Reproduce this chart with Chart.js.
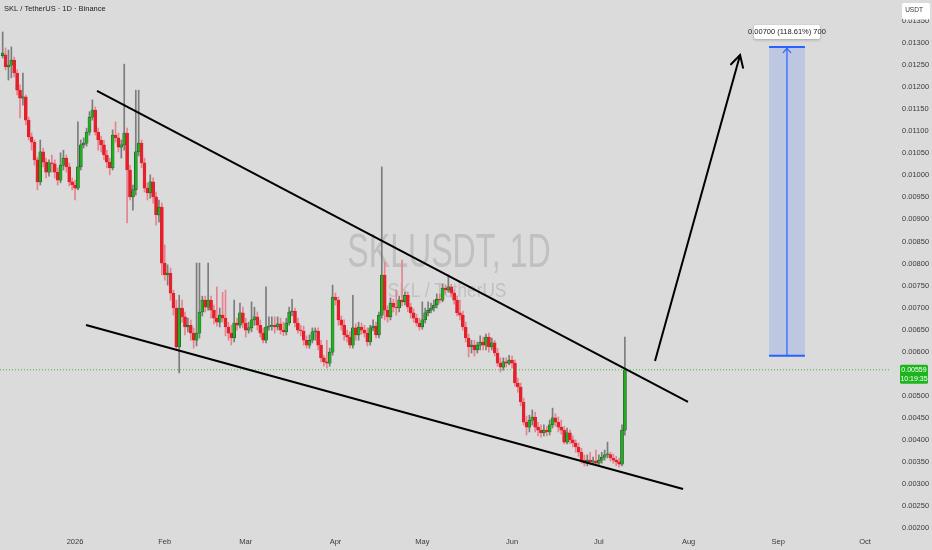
<!DOCTYPE html>
<html><head><meta charset="utf-8">
<script src="https://cdn.jsdelivr.net/npm/chart.js@4.4.1/dist/chart.umd.min.js"></script>
<style>html,body{margin:0;padding:0;background:#dbdbdb;overflow:hidden}#wrap{width:932px;height:550px}</style>
</head><body><div id="wrap"><canvas id="c" width="932" height="550"></canvas></div>
<script>
// first candle: 7 Dec 2025 = day -25 relative to 1 Jan 2026, one candle per day
const firstDay = -25;
const opens = [0.01271,0.01273,0.01246,0.01250,0.01261,0.01232,0.01193,0.01175,0.01178,0.01125,0.01087,0.01075,0.01035,0.00985,0.01053,0.01030,0.01007,0.01028,0.01026,0.01007,0.00989,0.01023,0.01039,0.01019,0.00985,0.00978,0.00971,0.01019,0.01069,0.01073,0.01098,0.01132,0.01148,0.01098,0.01080,0.01069,0.01046,0.01030,0.01017,0.01091,0.01085,0.01064,0.01069,0.01096,0.01012,0.00951,0.00967,0.01053,0.01073,0.01028,0.00971,0.00960,0.00985,0.00951,0.00910,0.00928,0.00801,0.00774,0.00778,0.00733,0.00699,0.00611,0.00699,0.00679,0.00656,0.00660,0.00642,0.00626,0.00642,0.00690,0.00717,0.00701,0.00717,0.00694,0.00676,0.00667,0.00683,0.00676,0.00656,0.00642,0.00631,0.00665,0.00660,0.00688,0.00665,0.00649,0.00654,0.00672,0.00679,0.00660,0.00642,0.00626,0.00656,0.00658,0.00660,0.00656,0.00663,0.00649,0.00645,0.00665,0.00690,0.00692,0.00665,0.00649,0.00647,0.00626,0.00615,0.00626,0.00645,0.00647,0.00615,0.00586,0.00577,0.00574,0.00599,0.00724,0.00717,0.00672,0.00660,0.00638,0.00633,0.00615,0.00654,0.00638,0.00656,0.00649,0.00642,0.00622,0.00654,0.00658,0.00638,0.00683,0.00774,0.00694,0.00679,0.00710,0.00701,0.00699,0.00717,0.00713,0.00728,0.00701,0.00688,0.00676,0.00665,0.00656,0.00672,0.00688,0.00694,0.00699,0.00706,0.00719,0.00717,0.00744,0.00740,0.00747,0.00733,0.00717,0.00688,0.00683,0.00656,0.00631,0.00611,0.00615,0.00604,0.00615,0.00622,0.00615,0.00633,0.00611,0.00620,0.00597,0.00574,0.00565,0.00577,0.00574,0.00581,0.00574,0.00529,0.00520,0.00486,0.00440,0.00429,0.00445,0.00452,0.00429,0.00422,0.00416,0.00422,0.00418,0.00434,0.00450,0.00440,0.00429,0.00422,0.00395,0.00416,0.00400,0.00393,0.00384,0.00372,0.00354,0.00347,0.00354,0.00350,0.00352,0.00347,0.00354,0.00361,0.00366,0.00367,0.00359,0.00354,0.00350,0.00345,0.00422];
const closes = [0.01277,0.01246,0.01250,0.01261,0.01232,0.01193,0.01175,0.01178,0.01125,0.01087,0.01075,0.01035,0.00985,0.01053,0.01030,0.01007,0.01028,0.01026,0.01007,0.00989,0.01023,0.01039,0.01019,0.00985,0.00978,0.00971,0.01019,0.01069,0.01073,0.01098,0.01132,0.01148,0.01098,0.01080,0.01069,0.01046,0.01030,0.01017,0.01091,0.01085,0.01064,0.01069,0.01096,0.01012,0.00951,0.00967,0.01053,0.01073,0.01028,0.00971,0.00960,0.00985,0.00951,0.00910,0.00928,0.00801,0.00774,0.00778,0.00733,0.00699,0.00611,0.00699,0.00679,0.00656,0.00660,0.00642,0.00626,0.00642,0.00690,0.00717,0.00701,0.00717,0.00694,0.00676,0.00667,0.00683,0.00676,0.00656,0.00642,0.00631,0.00665,0.00660,0.00688,0.00665,0.00649,0.00654,0.00672,0.00679,0.00660,0.00642,0.00626,0.00656,0.00658,0.00660,0.00656,0.00663,0.00649,0.00645,0.00665,0.00690,0.00692,0.00665,0.00649,0.00647,0.00626,0.00615,0.00626,0.00645,0.00647,0.00615,0.00586,0.00577,0.00574,0.00599,0.00724,0.00717,0.00672,0.00660,0.00638,0.00633,0.00615,0.00654,0.00638,0.00656,0.00649,0.00642,0.00622,0.00654,0.00658,0.00638,0.00683,0.00774,0.00694,0.00679,0.00710,0.00701,0.00699,0.00717,0.00713,0.00728,0.00701,0.00688,0.00676,0.00665,0.00656,0.00672,0.00688,0.00694,0.00699,0.00706,0.00719,0.00717,0.00744,0.00740,0.00747,0.00733,0.00717,0.00688,0.00683,0.00656,0.00631,0.00611,0.00615,0.00604,0.00615,0.00622,0.00615,0.00633,0.00611,0.00620,0.00597,0.00574,0.00565,0.00577,0.00574,0.00581,0.00574,0.00529,0.00520,0.00486,0.00440,0.00429,0.00445,0.00452,0.00429,0.00422,0.00416,0.00422,0.00418,0.00434,0.00450,0.00440,0.00429,0.00422,0.00395,0.00416,0.00400,0.00393,0.00384,0.00372,0.00354,0.00347,0.00354,0.00350,0.00352,0.00347,0.00354,0.00361,0.00366,0.00367,0.00359,0.00354,0.00350,0.00345,0.00422,0.00559];
const highs = [0.01325,0.01289,0.01284,0.01291,0.01268,0.01239,0.01205,0.01232,0.01182,0.01132,0.01096,0.01080,0.01041,0.01080,0.01062,0.01039,0.01035,0.01046,0.01035,0.01017,0.01051,0.01057,0.01046,0.01028,0.00994,0.00989,0.01121,0.01080,0.01085,0.01107,0.01144,0.01171,0.01155,0.01107,0.01089,0.01080,0.01057,0.01039,0.01103,0.01121,0.01096,0.01080,0.01252,0.01107,0.01023,0.00978,0.01193,0.01193,0.01080,0.01039,0.00983,0.01001,0.00994,0.00962,0.00944,0.00937,0.00842,0.00797,0.00790,0.00740,0.00717,0.00728,0.00717,0.00690,0.00676,0.00672,0.00654,0.00801,0.00801,0.00726,0.00726,0.00801,0.00726,0.00706,0.00747,0.00699,0.00735,0.00740,0.00667,0.00660,0.00717,0.00676,0.00710,0.00701,0.00676,0.00667,0.00713,0.00701,0.00690,0.00672,0.00654,0.00747,0.00679,0.00679,0.00679,0.00679,0.00676,0.00667,0.00676,0.00701,0.00719,0.00699,0.00676,0.00660,0.00658,0.00636,0.00638,0.00654,0.00654,0.00654,0.00626,0.00592,0.00626,0.00608,0.00751,0.00733,0.00724,0.00681,0.00672,0.00649,0.00645,0.00728,0.00663,0.00667,0.00665,0.00660,0.00654,0.00660,0.00672,0.00667,0.00690,0.01019,0.00803,0.00704,0.00722,0.00719,0.00740,0.00726,0.00808,0.00735,0.00735,0.00710,0.00697,0.00685,0.00676,0.00713,0.00699,0.00713,0.00710,0.00717,0.00731,0.00731,0.00753,0.00751,0.00774,0.00753,0.00740,0.00726,0.00717,0.00692,0.00667,0.00640,0.00626,0.00626,0.00622,0.00636,0.00633,0.00640,0.00642,0.00631,0.00626,0.00608,0.00586,0.00586,0.00586,0.00592,0.00590,0.00581,0.00540,0.00529,0.00495,0.00454,0.00456,0.00468,0.00463,0.00440,0.00434,0.00434,0.00431,0.00445,0.00472,0.00459,0.00452,0.00445,0.00431,0.00427,0.00422,0.00409,0.00400,0.00393,0.00381,0.00366,0.00366,0.00372,0.00361,0.00377,0.00366,0.00372,0.00377,0.00395,0.00372,0.00368,0.00363,0.00359,0.00434,0.00633];
const lows = [0.01266,0.01239,0.01216,0.01221,0.01223,0.01182,0.01130,0.01159,0.01114,0.01080,0.01057,0.01023,0.00967,0.00978,0.01019,0.00994,0.00998,0.01007,0.00994,0.00978,0.00983,0.01012,0.01007,0.00976,0.00967,0.00944,0.00967,0.01012,0.01062,0.01066,0.01091,0.01125,0.01091,0.01057,0.01053,0.01035,0.01017,0.01001,0.01012,0.01075,0.01053,0.01039,0.01057,0.00892,0.00944,0.00921,0.00955,0.01044,0.01017,0.00962,0.00944,0.00948,0.00937,0.00887,0.00894,0.00774,0.00762,0.00751,0.00717,0.00683,0.00604,0.00552,0.00667,0.00638,0.00645,0.00626,0.00608,0.00613,0.00631,0.00681,0.00690,0.00694,0.00676,0.00663,0.00658,0.00656,0.00667,0.00636,0.00626,0.00615,0.00622,0.00649,0.00654,0.00654,0.00633,0.00642,0.00645,0.00660,0.00649,0.00633,0.00620,0.00620,0.00649,0.00649,0.00642,0.00649,0.00640,0.00636,0.00638,0.00660,0.00681,0.00656,0.00642,0.00636,0.00615,0.00608,0.00608,0.00620,0.00626,0.00604,0.00577,0.00567,0.00563,0.00567,0.00592,0.00706,0.00660,0.00649,0.00626,0.00622,0.00608,0.00608,0.00626,0.00626,0.00640,0.00633,0.00613,0.00615,0.00647,0.00631,0.00631,0.00676,0.00672,0.00667,0.00672,0.00690,0.00683,0.00690,0.00704,0.00706,0.00690,0.00676,0.00667,0.00658,0.00649,0.00651,0.00665,0.00681,0.00688,0.00692,0.00699,0.00710,0.00713,0.00731,0.00735,0.00724,0.00708,0.00681,0.00672,0.00649,0.00622,0.00588,0.00597,0.00590,0.00597,0.00604,0.00604,0.00604,0.00599,0.00604,0.00590,0.00567,0.00554,0.00558,0.00565,0.00570,0.00563,0.00522,0.00508,0.00477,0.00434,0.00411,0.00418,0.00434,0.00418,0.00409,0.00406,0.00409,0.00409,0.00411,0.00427,0.00431,0.00418,0.00413,0.00391,0.00391,0.00391,0.00384,0.00372,0.00363,0.00347,0.00341,0.00341,0.00343,0.00343,0.00341,0.00343,0.00347,0.00354,0.00359,0.00352,0.00347,0.00341,0.00338,0.00341,0.00411];

const yTicks = [0.0020,0.0025,0.0030,0.0035,0.0040,0.0045,0.0050,0.0055,0.0060,0.0065,0.0070,0.0075,0.0080,0.0085,0.0090,0.0095,0.0100,0.0105,0.0110,0.0115,0.0120,0.0125,0.0130,0.0135];
const yHiddenTick = 0.0055; // covered by the live price tag
const monthTicks = [0,31,59,90,120,151,181,212,243,273];
const monthLabels = ['2026','Feb','Mar','Apr','May','Jun','Jul','Aug','Sep','Oct'];
const upperTrend = [{x:7.6,y:0.011912},{x:211.8,y:0.00486}];
const lowerTrend = [{x:3.8,y:0.006605},{x:210.1,y:0.002887}];
const projArrow = [{x:200.4,y:0.00579},{x:229.8,y:0.012728}];
const targetBox = {x0:239.8,x1:252.2,y0:0.00591,y1:0.01291};
const targetText = '0.00700 (118.61%) 700';
const lastPrice = 0.00559;
const lastPriceText = '0.00559';
const countdownText = '10:19:35';
const titleText = 'SKL / TetherUS · 1D · Binance';

const X_MIN = -25.92, X_MAX = 281.6, Y_MIN = 0.001889, Y_MAX = 0.013975;
const UP = '#1fae1f', DOWN = '#e3202b', UP_BORDER = '#1d3a1d', UP_WICK = '#7c7c7c', DOWN_WICK = '#e8828c';
const NARROW = '"Liberation Sans Narrow", "Liberation Sans", Arial, sans-serif';

const xs = opens.map((_, i) => firstDay + i);
const isUp = i => closes[i] >= opens[i];
const bodies = opens.map((o, i) => ({x: xs[i], y: [o, closes[i]]}));
const wicks = opens.map((o, i) => ({x: xs[i], y: [lows[i], highs[i]]}));

function condensedText(ctx, s, x, y, font, color, align, sx) {
  ctx.save();
  ctx.font = font; ctx.fillStyle = color; ctx.textBaseline = 'middle'; ctx.textAlign = align;
  ctx.translate(x, y); ctx.scale(sx, 1); ctx.fillText(s, 0, 0);
  ctx.restore();
}
function roundRect(ctx, x, y, w, h, r) {
  ctx.beginPath();
  ctx.moveTo(x + r, y); ctx.lineTo(x + w - r, y); ctx.quadraticCurveTo(x + w, y, x + w, y + r);
  ctx.lineTo(x + w, y + h - r); ctx.quadraticCurveTo(x + w, y + h, x + w - r, y + h);
  ctx.lineTo(x + r, y + h); ctx.quadraticCurveTo(x, y + h, x, y + h - r);
  ctx.lineTo(x, y + r); ctx.quadraticCurveTo(x, y, x + r, y); ctx.closePath();
}

const bgPlugin = {
  id: 'bg',
  beforeDraw(chart) {
    const c = chart.ctx; c.save(); c.fillStyle = '#dbdbdb'; c.fillRect(0, 0, chart.width, chart.height); c.restore();
  },
  beforeDatasetsDraw(chart) {
    const c = chart.ctx;
    condensedText(c, 'SKLUSDT, 1D', 449, 253, '49px "Liberation Sans", Arial, sans-serif', 'rgba(110,110,110,0.24)', 'center', 0.655);
    condensedText(c, 'SKL / TetherUS', 447, 291, '21px "Liberation Sans", Arial, sans-serif', 'rgba(110,110,110,0.24)', 'center', 0.82);
    const xs_ = chart.scales.x, ys_ = chart.scales.y;
    const bx0 = xs_.getPixelForValue(targetBox.x0), bx1 = xs_.getPixelForValue(targetBox.x1);
    const by0 = ys_.getPixelForValue(targetBox.y0), by1 = ys_.getPixelForValue(targetBox.y1);
    c.save();
    c.fillStyle = 'rgba(41,98,255,0.17)';
    c.fillRect(bx0, by1, bx1 - bx0, by0 - by1);
    c.strokeStyle = '#2962ff'; c.lineWidth = 2;
    c.beginPath(); c.moveTo(bx0, by1); c.lineTo(bx1, by1); c.moveTo(bx0, by0); c.lineTo(bx1, by0); c.stroke();
    const mx = (bx0 + bx1) / 2;
    c.lineWidth = 1.2;
    c.beginPath(); c.moveTo(mx, by0); c.lineTo(mx, by1 + 1); c.stroke();
    c.beginPath(); c.moveTo(mx - 4, by1 + 6); c.lineTo(mx, by1 + 1.5); c.lineTo(mx + 4, by1 + 6); c.stroke();
    c.restore();
  },
  afterDatasetsDraw(chart) {
    const c = chart.ctx, xs_ = chart.scales.x, ys_ = chart.scales.y;
    const x0 = xs_.getPixelForValue(projArrow[0].x), y0 = ys_.getPixelForValue(projArrow[0].y);
    const x1 = xs_.getPixelForValue(projArrow[1].x), y1 = ys_.getPixelForValue(projArrow[1].y);
    const ang = Math.atan2(y1 - y0, x1 - x0);
    const L = 13, spread = 0.5;
    c.save(); c.strokeStyle = '#000'; c.lineWidth = 2; c.lineCap = 'round';
    c.beginPath();
    c.moveTo(x1 - L * Math.cos(ang - spread), y1 - L * Math.sin(ang - spread));
    c.lineTo(x1, y1);
    c.lineTo(x1 - L * Math.cos(ang + spread), y1 - L * Math.sin(ang + spread));
    c.stroke(); c.restore();
  },
  afterDraw(chart) {
    const c = chart.ctx, xs_ = chart.scales.x, ys_ = chart.scales.y;
    const mx = (xs_.getPixelForValue(targetBox.x0) + xs_.getPixelForValue(targetBox.x1)) / 2;
    const by1 = ys_.getPixelForValue(targetBox.y1);
    c.save();
    c.shadowColor = 'rgba(0,0,0,0.25)'; c.shadowBlur = 3; c.shadowOffsetY = 1;
    c.fillStyle = '#ffffff'; roundRect(c, mx - 33, by1 - 22, 66, 14, 2); c.fill();
    c.restore();
    condensedText(c, targetText, mx, by1 - 15, '7.5px ' + NARROW, '#222', 'center', 1);
    condensedText(c, titleText, 4, 9, '7.5px ' + NARROW, '#222', 'left', 1);
    c.save(); c.fillStyle = '#ffffff'; roundRect(c, 902, 3, 28, 16.5, 2); c.fill(); c.restore();
    condensedText(c, 'USDT', 914, 10.5, '6.5px ' + NARROW, '#333', 'center', 1);
    const py = ys_.getPixelForValue(lastPrice);
    c.save(); c.fillStyle = '#1db51d'; roundRect(c, 900, py - 5, 28, 19, 1.5); c.fill(); c.restore();
    condensedText(c, lastPriceText, 914, py + 0.5, '7px ' + NARROW, '#fff', 'center', 1);
    condensedText(c, countdownText, 914, py + 9, '7px ' + NARROW, '#fff', 'center', 1);
  }
};

new Chart(document.getElementById('c'), {
  type: 'bar',
  data: {
    datasets: [
      {type: 'line', data: upperTrend, borderColor: '#000', borderWidth: 2, pointRadius: 0, order: -3},
      {type: 'line', data: lowerTrend, borderColor: '#000', borderWidth: 2, pointRadius: 0, order: -3},
      {type: 'line', data: projArrow, borderColor: '#000', borderWidth: 2, pointRadius: 0, order: -3},
      {type: 'line', data: [{x: X_MIN, y: lastPrice}, {x: X_MAX, y: lastPrice}], borderColor: '#3cb93c', borderWidth: 1, borderDash: [1, 2], pointRadius: 0, order: -2},
      {data: bodies, barThickness: 3, minBarLength: 1, grouped: false, order: 0,
        backgroundColor: ctx => isUp(ctx.dataIndex) ? UP : DOWN,
        borderColor: ctx => isUp(ctx.dataIndex) ? UP_BORDER : DOWN,
        borderWidth: 0.5, borderSkipped: false},
      {data: wicks, barThickness: 1, grouped: false, order: 1,
        backgroundColor: ctx => isUp(ctx.dataIndex) ? UP_WICK : DOWN_WICK, borderWidth: 0}
    ]
  },
  options: {
    responsive: false, animation: false, devicePixelRatio: 1,
    layout: {padding: 0},
    plugins: {legend: {display: false}, tooltip: {enabled: false}},
    scales: {
      x: {
        type: 'linear', min: X_MIN, max: X_MAX, offset: false,
        grid: {display: false, drawTicks: false}, border: {display: false},
        afterFit: s => { s.height = 17; s.paddingLeft = 0; s.paddingRight = 0; },
        afterBuildTicks: s => { s.ticks = monthTicks.map(v => ({value: v})); },
        ticks: {autoSkip: false, maxRotation: 0, padding: 4, color: '#3a3a3a',
          font: {family: NARROW, size: 7.5},
          callback: (v, i) => monthLabels[i]}
      },
      y: {
        type: 'linear', position: 'right', min: Y_MIN, max: Y_MAX,
        grid: {display: false, drawTicks: false}, border: {display: false},
        afterFit: s => { s.width = 42; s.paddingTop = 0; s.paddingBottom = 0; },
        afterBuildTicks: s => { s.ticks = yTicks.map(v => ({value: v})); },
        ticks: {padding: 12, color: '#3a3a3a', font: {family: NARROW, size: 7.5},
          callback: v => Math.abs(v - yHiddenTick) < 1e-9 ? '' : v.toFixed(5)}
      }
    }
  },
  plugins: [bgPlugin]
});
</script>
</body></html>
